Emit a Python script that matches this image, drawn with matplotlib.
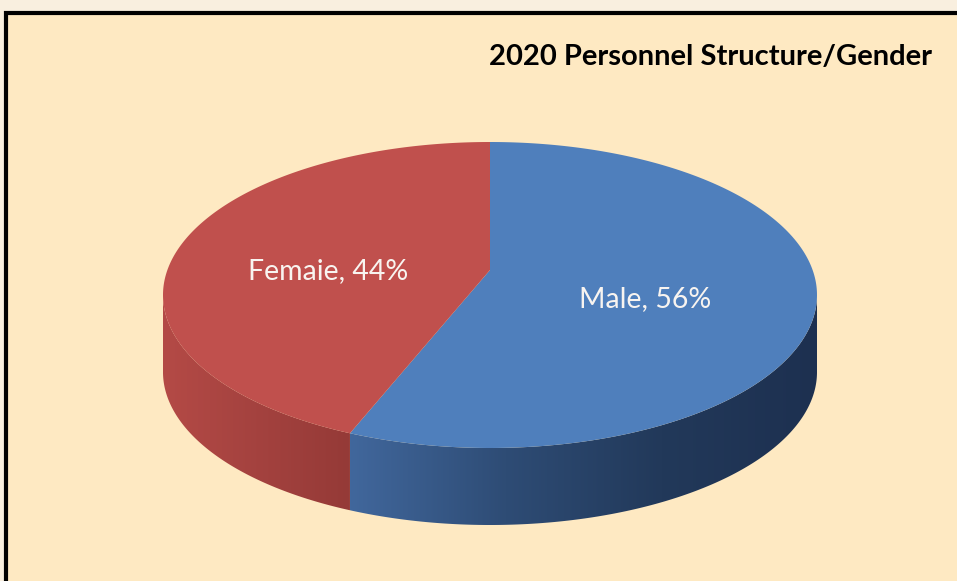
"""
2020 personnel structure by gender, drawn as an extruded (3D-look) pie.

The top face is a unit circle pushed through a simple perspective map,
so slice edges meet at the projected centre rather than the ellipse centre.
"""

import matplotlib
matplotlib.use("Agg")
import matplotlib.pyplot as plt
import numpy as np
from matplotlib.colors import LinearSegmentedColormap
from matplotlib.patches import Polygon, Rectangle

TITLE = "2020 Personnel Structure/Gender"
LABELS = ["Male", "Femaie"]
SHARES = [56, 44]
TOP_COLORS = ["#4F7FBC", "#C0504D"]
SIDE_COLORS = [["#41679C", "#2E4C75", "#22395A", "#1D3050"],
               ["#B44A46", "#A4423F", "#953A37"]]

W, H = 957, 581
CX = 490
Y_FAR, Y_CENTRE, Y_NEAR = 142, 270, 448   # screen y of far rim, centre, near rim
HALF_WIDTH = 327                           # widest half-width of the top face
DEPTH = 77                                 # extrusion height

BG_OUTER = "#F9EFDF"
BG_INNER = "#FEE9C2"

# perspective map  Y = (b v + c) / (1 + k v),  X = CX + a u / (1 + k v)
K = (2 * Y_CENTRE - Y_FAR - Y_NEAR) / (Y_FAR - Y_NEAR)
B = Y_FAR * (1 + K) - Y_CENTRE
A = HALF_WIDTH * np.sqrt(1 - K ** 2)


def project(u, v):
    w = 1 + K * v
    return CX + A * u / w, (B * v + Y_CENTRE) / w


def rim(a0, a1, r=1.0, dy=0.0, n=240):
    t = np.radians(np.linspace(a0, a1, n))
    x, y = project(r * np.cos(t), r * np.sin(t))
    return np.column_stack([x, y + dy])


def main() -> None:
    fig = plt.figure(figsize=(W / 100, H / 100), dpi=100)
    fig.patch.set_facecolor(BG_OUTER)
    ax = fig.add_axes([0, 0, 1, 1])
    ax.set_xlim(0, W)
    ax.set_ylim(H, 0)
    ax.axis("off")

    # chart area with black frame
    ax.add_patch(Rectangle((6, 13), W + 20, H + 20, facecolor=BG_INNER,
                           edgecolor="black", linewidth=3, zorder=0))

    # slice angles, clockwise from 12 o'clock
    total = float(sum(SHARES))
    bounds = [90.0]
    for s in SHARES:
        bounds.append(bounds[-1] - 360.0 * s / total)

    # visible wall runs between the two silhouette points (sin t = -K)
    sil_right = -np.degrees(np.arcsin(K))
    sil_left = -180.0 - sil_right
    cut = bounds[1]
    walls = [(cut, sil_right), (sil_left, cut)]

    for i, (a0, a1) in enumerate(walls):
        top = rim(a0, a1)
        bot = rim(a1, a0, dy=DEPTH)
        wall = Polygon(np.vstack([top, bot]), closed=True, facecolor="none",
                       edgecolor="none", zorder=2)
        ax.add_patch(wall)
        x0, x1 = top[:, 0].min(), top[:, 0].max()
        cmap = LinearSegmentedColormap.from_list(f"side{i}", SIDE_COLORS[i])
        grad = np.linspace(0, 1, 256)[None, :]
        im = ax.imshow(grad, cmap=cmap, aspect="auto",
                       extent=[x0, x1, Y_NEAR + DEPTH + 10, Y_FAR], zorder=2)
        im.set_clip_path(wall)

    # top face slices and their labels
    centre = project(0.0, 0.0)
    for i, (a_start, a_end) in enumerate(zip(bounds[:-1], bounds[1:])):
        pts = np.vstack([centre, rim(a_start, a_end)])
        ax.add_patch(Polygon(pts, closed=True, facecolor=TOP_COLORS[i],
                             edgecolor="none", zorder=3))

        mid = np.radians((a_start + a_end) / 2)
        lx, ly = project(0.5 * np.cos(mid), 0.5 * np.sin(mid))
        ax.text(lx - 6, ly + 15, f"{LABELS[i]}, {SHARES[i]}%", color="#F8F4F0",
                fontsize=20.5, family="Lato", ha="center", va="center", zorder=4)

    ax.text(932, 57, TITLE, fontsize=21, family="Lato", fontweight="bold",
            ha="right", va="center", color="black", zorder=4)

    fig.savefig("out.png", dpi=100, facecolor=fig.get_facecolor())
    plt.close(fig)


if __name__ == "__main__":
    main()
